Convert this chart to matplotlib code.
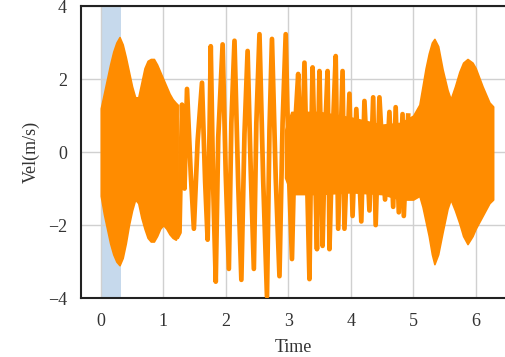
import matplotlib
matplotlib.use("Agg")
import matplotlib.pyplot as plt

# ---- data ----
# dense oscillation envelopes, left part
t_left = [0.00, 0.05, 0.10, 0.15, 0.20, 0.25, 0.30, 0.35, 0.40, 0.45, 0.50, 0.55, 0.60,
          0.65, 0.70, 0.75, 0.80, 0.85, 0.90, 0.95, 1.00, 1.05, 1.10, 1.15, 1.20, 1.23]
upper_left = [1.20, 1.60, 2.00, 2.40, 2.75, 3.00, 3.15, 2.95, 2.60, 2.20, 1.80, 1.50, 1.50,
              1.90, 2.30, 2.50, 2.55, 2.55, 2.40, 2.20, 2.00, 1.80, 1.60, 1.45, 1.35, 1.30]
lower_left = [-1.20, -1.70, -2.10, -2.50, -2.80, -3.00, -3.10, -2.90, -2.50, -2.00, -1.60, -1.30, -1.40,
              -1.80, -2.10, -2.35, -2.45, -2.45, -2.30, -2.10, -2.00, -2.10, -2.25, -2.35, -2.40, -2.30]

# dense core / envelopes, right part
t_right = [2.95, 3.05, 3.50, 4.00, 4.50, 4.80, 5.00, 5.10, 5.15, 5.20, 5.25, 5.30, 5.34, 5.40,
           5.47, 5.55, 5.60, 5.67, 5.74, 5.80, 5.87, 5.95, 6.00, 6.11, 6.22, 6.28]
upper_right = [0.60, 1.10, 1.10, 0.95, 0.75, 0.80, 1.00, 1.30, 1.80, 2.30, 2.70, 3.00, 3.10, 2.90,
               2.27, 1.70, 1.45, 1.80, 2.20, 2.45, 2.55, 2.45, 2.30, 1.80, 1.36, 1.25]
lower_right = [-0.70, -1.15, -1.15, -1.10, -1.15, -1.30, -1.30, -1.20, -1.50, -1.90, -2.30, -2.80, -3.07, -2.80,
               -2.20, -1.55, -1.30, -1.60, -1.95, -2.30, -2.52, -2.30, -2.10, -1.75, -1.40, -1.30]

# distinct oscillation extrema in the middle part
spike_t = [1.23, 1.26, 1.30, 1.34, 1.38, 1.44, 1.49, 1.55, 1.62, 1.67, 1.71, 1.74, 1.76, 1.80,
           1.84, 1.88, 1.95, 2.00, 2.05, 2.09, 2.14, 2.20, 2.25, 2.30, 2.35, 2.40, 2.45, 2.49,
           2.54, 2.60, 2.66, 2.70, 2.74, 2.80, 2.86, 2.91, 2.96, 3.01, 3.06, 3.11, 3.16, 3.21,
           3.26, 3.30, 3.34, 3.37, 3.39, 3.43, 3.46, 3.48, 3.50, 3.53, 3.55, 3.59, 3.63, 3.65,
           3.66, 3.71, 3.76, 3.80, 3.87, 3.90, 3.98, 4.03, 4.09, 4.17, 4.22, 4.30, 4.36, 4.40,
           4.46, 4.55, 4.62, 4.68, 4.72, 4.77, 4.83, 4.85, 4.92]
spike_v = [-2.30, -2.20, 1.30, -1.00, 1.73, -0.60, -2.10, 0.30, 1.90, -0.80, -2.40, 0.50, 2.90, -1.00,
           -3.55, 0.40, 2.95, -0.60, -3.20, 0.80, 3.05, -0.90, -3.50, 0.50, 2.77, -0.50, -3.20, 0.80,
           3.23, -0.80, -3.95, 0.60, 3.10, -0.70, -3.40, 0.80, 3.23, -0.50, -2.93, 0.70, 2.14, -1.00,
           2.45, -0.60, -3.48, 0.50, 2.32, -0.40, -2.66, 0.30, 2.22, -0.30, -2.57, 0.50, 2.22, -0.50,
           -2.66, 0.40, 2.63, -2.10, 2.22, -2.10, 1.60, -1.75, 1.18, -1.90, 1.40, -1.60, 1.50, -2.00,
           1.50, -1.30, 1.10, -1.50, 1.23, -1.65, 1.04, -1.75, 1.00]

span_range = [0.0, 0.33]
x_ticks = [0, 1, 2, 3, 4, 5, 6]
y_ticks = [-4, -2, 0, 2, 4]

ORANGE = "#FF8C00"

plt.rcParams['font.family'] = ['Liberation Serif', 'DejaVu Serif']
plt.rcParams['axes.unicode_minus'] = True

fig = plt.figure(figsize=(5.05, 3.57), dpi=100)
ax = fig.add_axes([0.160, 0.165, 0.840, 0.818])

ax.axvspan(span_range[0], span_range[1], color="#c6d9ec", zorder=0.5, lw=0)

ax.fill_between(t_left, lower_left, upper_left, color=ORANGE, lw=1.2, edgecolor=ORANGE, zorder=3)
ax.fill_between(t_right, lower_right, upper_right, color=ORANGE, lw=1.2, edgecolor=ORANGE, zorder=3)
ax.plot(spike_t, spike_v, color=ORANGE, lw=3.4, zorder=3)

ax.set_xlim(-0.32, 6.47)
ax.set_ylim(-4, 4)
ax.set_xticks(x_ticks)
ax.set_yticks(y_ticks)
ax.grid(True, color="#d0d0d0", lw=1.0, zorder=1)
ax.set_axisbelow(True)

for s in ["left", "bottom", "top"]:
    ax.spines[s].set_color("#222222")
    ax.spines[s].set_linewidth(1.5)
ax.spines["right"].set_visible(False)

ax.tick_params(axis="both", length=0, labelsize=13, colors="#333333")
ax.tick_params(axis="x", pad=11)
ax.tick_params(axis="y", pad=10)
ax.set_xlabel("Time", fontsize=13, color="#333333", labelpad=6)
ax.set_ylabel("Vel(m/s)", fontsize=13, color="#333333", labelpad=6)

fig.savefig("out.png", dpi=100)
